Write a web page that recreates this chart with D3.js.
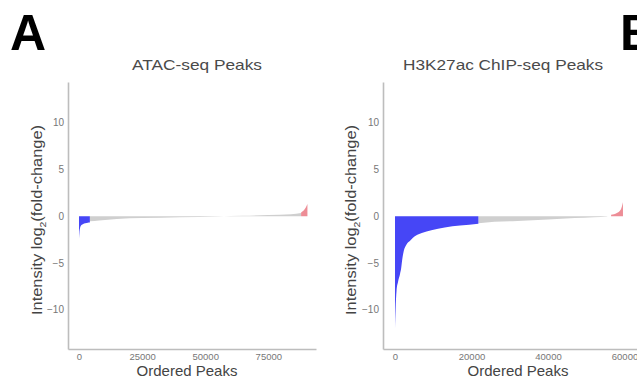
<!DOCTYPE html>
<html>
<head>
<meta charset="utf-8">
<script src="https://cdn.jsdelivr.net/npm/d3@7"></script>
<style>
  body { margin: 0; background: #fff; }
  text { font-family: "Liberation Sans", Arial, sans-serif; }
</style>
</head>
<body>
<div id="chart"></div>
<script>
// ---- data: [rank, log2 fold-change] ----
var atacDown = [[0,-2.4],[150,-1.8],[400,-1.3],[800,-1.0],[1500,-0.85],[2500,-0.75],[3500,-0.7],[4300,-0.68]];
var atacMid  = [[4300,-0.55],[8000,-0.45],[15000,-0.3],[25000,-0.2],[40000,-0.1],[55000,-0.02],[65000,0.05],[75000,0.12],[84000,0.22],[88000,0.35]];
var atacUp   = [[88000,0.4],[89000,0.6],[89800,0.9],[90500,1.3]];

var chipDown = [[0,-12],[150,-10],[400,-8],[800,-7],[1300,-6.2],[1600,-5.6],[1900,-4.6],[2300,-3.7],[2900,-3.1],[4000,-2.6],[5000,-2.2],[7000,-1.8],[9500,-1.5],[13000,-1.2],[17000,-1.0],[21800,-0.8]];
var chipMid  = [[21800,-0.75],[26000,-0.6],[32000,-0.5],[40000,-0.35],[47000,-0.2],[52000,-0.1],[55500,-0.02]];
var chipUp   = [[56500,0.15],[58000,0.35],[59000,0.7],[59600,1.5]];

var yTicks = [-10, -5, 0, 5, 10];
var atacTicks = [0, 25000, 50000, 75000];
var chipTicks = [0, 20000, 40000, 60000];

var W = 637, H = 379;
var svg = d3.select("#chart").append("svg")
    .attr("width", W)
    .attr("height", H);

var blue = "#4646f6", grey = "#cfcfcf", red = "#e8707c";

function drawPanel(p) {
  var x = d3.scaleLinear().domain(p.xDomain).range([p.left, p.right]);
  var y = d3.scaleLinear().domain([-14.2, 14.35]).range([349, 82]);

  var area = d3.area()
      .curve(d3.curveMonotoneX)
      .x(function(d) { return x(d[0]); })
      .y0(y(0))
      .y1(function(d) { return y(d[1]); });

  svg.append("path").datum(p.mid).attr("d", area).attr("fill", grey);
  svg.append("path").datum(p.up).attr("d", area).attr("fill", red).attr("opacity", 0.8);
  svg.append("path").datum(p.down).attr("d", area).attr("fill", blue);

  // y axis
  var ya = svg.append("g")
      .attr("transform", "translate(" + p.left + ",0)")
      .call(d3.axisLeft(y).tickValues(yTicks).tickSize(0).tickPadding(4));
  ya.select(".domain").attr("stroke", "#bdbdbd").attr("stroke-width", 1.6);
  ya.selectAll("text").attr("font-size", 10).attr("fill", "#777");

  // x axis
  var xa = svg.append("g")
      .attr("transform", "translate(0,349)")
      .call(d3.axisBottom(x).tickValues(p.xTicks).tickFormat(d3.format("d")).tickSize(0).tickPadding(4));
  xa.select(".domain").attr("stroke", "#bdbdbd").attr("stroke-width", 1.6);
  xa.selectAll("text").attr("font-size", 9.5).attr("fill", "#777");

  svg.append("text")
      .attr("x", p.titleX).attr("y", 70)
      .attr("text-anchor", "middle")
      .attr("font-size", 15)
      .attr("fill", "#4a4a4a")
      .attr("textLength", p.titleLen)
      .attr("lengthAdjust", "spacingAndGlyphs")
      .text(p.title);

  svg.append("text")
      .attr("x", p.xLabX).attr("y", 376)
      .attr("text-anchor", "middle")
      .attr("font-size", 15)
      .attr("fill", "#444")
      .text("Ordered Peaks");

  var yl = svg.append("text")
      .attr("transform", "translate(" + p.yLabX + ",220) rotate(-90)")
      .attr("text-anchor", "middle")
      .attr("font-size", 15)
      .attr("fill", "#444")
      .attr("textLength", 190)
      .attr("lengthAdjust", "spacingAndGlyphs");
  yl.append("tspan").text("Intensity log");
  yl.append("tspan").attr("font-size", 9.5).attr("dy", 4).text("2");
  yl.append("tspan").attr("dy", -4).text("(fold-change)");

  svg.append("text")
      .attr("x", p.letterX).attr("y", 50)
      .attr("font-size", 50)
      .attr("font-weight", "bold")
      .attr("fill", "#000")
      .text(p.letter);
}

drawPanel({
  left: 68, right: 316, xDomain: [-4358, 93900], xTicks: atacTicks,
  down: atacDown, mid: atacMid, up: atacUp,
  title: "ATAC-seq Peaks", titleLen: 130, titleX: 197, xLabX: 187, yLabX: 42,
  letter: "A", letterX: 10
});

drawPanel({
  left: 383, right: 637, xDomain: [-3137, 63268], xTicks: chipTicks,
  down: chipDown, mid: chipMid, up: chipUp,
  title: "H3K27ac  ChIP-seq Peaks", titleLen: 200, titleX: 503, xLabX: 518, yLabX: 356,
  letter: "B", letterX: 620
});
</script>
</body>
</html>
